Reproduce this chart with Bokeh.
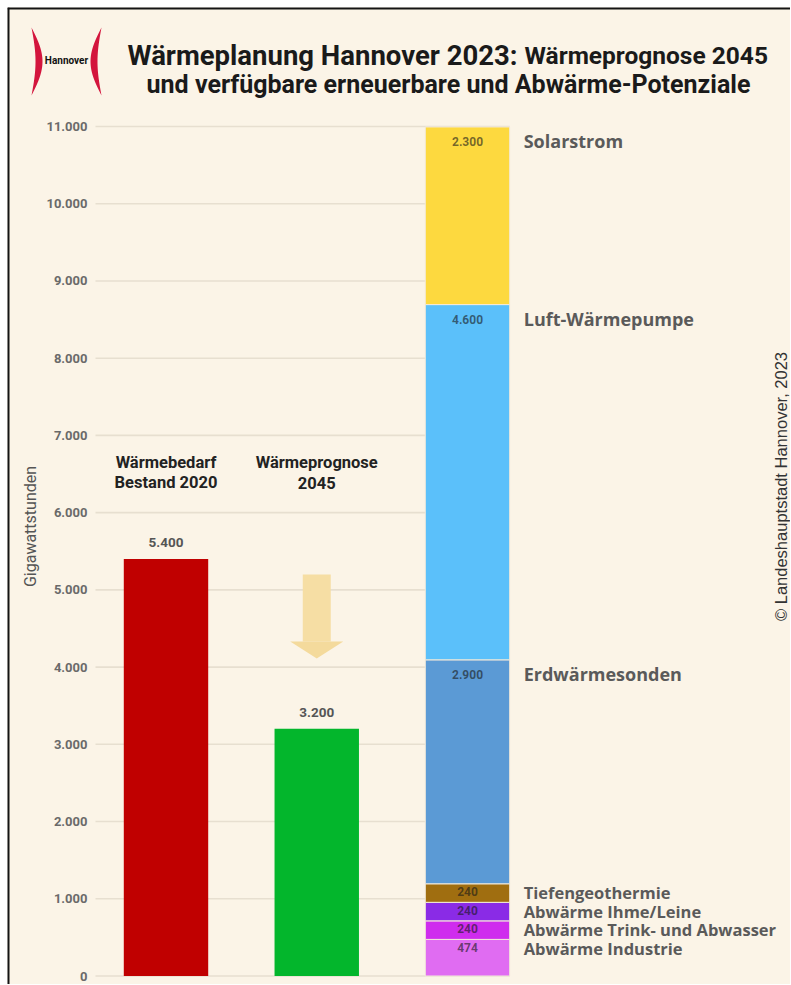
import numpy as np
from bokeh.plotting import figure
from bokeh.models import Range1d, ColumnDataSource
from bokeh.core.properties import value
from bokeh.embed import file_html
from bokeh.resources import INLINE

# ---------------- data ----------------
bar_categories = ["Wärmebedarf\nBestand 2020", "Wärmeprognose\n2045"]
bar_values = [5400, 3200]
bar_colors = ["#C00000", "#03B62C"]

potential_names = ["Abwärme Industrie", "Abwärme Trink- und Abwasser", "Abwärme Ihme/Leine",
                   "Tiefengeothermie", "Erdwärmesonden", "Luft-Wärmepumpe", "Solarstrom"]
potential_values = [474, 240, 240, 240, 2900, 4600, 2300]
potential_colors = ["#E06CF2", "#CF2CEE", "#8A2BE6", "#A06E10", "#5B9AD5", "#5BC0FA", "#FDD93F"]

arrow_start = [5200]
arrow_end = [4110]

y_ticks = [0, 1000, 2000, 3000, 4000, 5000, 6000, 7000, 8000, 9000, 10000, 11000]
y_tick_labels = ["0", "1.000", "2.000", "3.000", "4.000", "5.000", "6.000",
                 "7.000", "8.000", "9.000", "10.000", "11.000"]

title_part1 = "Wärmeplanung Hannover 2023:"
title_part2 = "Wärmeprognose 2045"
title_line2 = "und verfügbare erneuerbare und Abwärme-Potenziale"
y_axis_title = "Gigawattstunden"
credit = "© Landeshauptstadt Hannover, 2023"
logo_text = "Hannover"

# ---------------- geometry / style ----------------
BG = "#FBF4E7"
FONT = "Roboto"
FONT2 = "Open Sans"
W, H = 790, 984
M = 7                      # white strip before the frame border
PX_X = 150.75              # pixels per category step
PX_Y = 849.5 / 11000       # pixels per GWh
X0_PX, Y0_PX = 165.5, 975.5  # page position of x=0, y=0

x_start = (M - X0_PX) / PX_X
x_end = (W - X0_PX) / PX_X
y_end = (Y0_PX - M) / PX_Y
y_start = -(H - Y0_PX) / PX_Y


def X(px):
    return x_start + (px - M) / PX_X


def Y(py):
    return (Y0_PX - py) / PX_Y


def de(v):
    return f"{v:,}".replace(",", ".")


BAR_W = 0.56

p = figure(width=W, height=H, x_range=Range1d(x_start, x_end), y_range=Range1d(y_start, y_end),
           x_axis_location=None, y_axis_location=None, toolbar_location=None,
           output_backend="svg", min_border_left=M, min_border_top=M,
           min_border_right=0, min_border_bottom=0,
           background_fill_color=BG, border_fill_color="white", outline_line_color=None)
p.grid.visible = False

# frame border (left and top)
p.segment(x0=[x_start, x_start], x1=[x_start, x_end], y0=[y_start, y_end], y1=[y_end, y_end],
          line_color="#141414", line_width=4)

# ---------------- header ----------------
s = np.linspace(0, 1, 40)
yy = 27 + (95 - 27) * s
outer = np.sin(np.pi * s) * 11
inner = np.sin(np.pi * s) * 4
for x0, sign in ((31, 1), (101, -1)):
    xs = np.concatenate([x0 + sign * outer, (x0 + sign * inner)[::-1]])
    ys = np.concatenate([yy, yy[::-1]])
    p.patch([X(v) for v in xs], [Y(v) for v in ys], fill_color="#D3153D", line_color=None)
p.text(x=[X(66)], y=[Y(60)], text=[logo_text], text_font=value(FONT),
       text_font_size="10px", text_font_style="bold", text_color="#111",
       text_align="center", text_baseline="middle")

p.text(x=[X(517)], y=[Y(55)], text=[title_part1], text_font=value(FONT), text_font_size="27.5px",
       text_font_style="bold", text_color="#1a1a1a", text_align="right", text_baseline="alphabetic")
p.text(x=[X(524)], y=[Y(55)], text=[title_part2], text_font=value(FONT), text_font_size="24.5px",
       text_font_style="bold", text_color="#1a1a1a", text_align="left", text_baseline="alphabetic")
p.text(x=[X(448)], y=[Y(84)], text=[title_line2], text_font=value(FONT), text_font_size="25px",
       text_font_style="bold", text_color="#1a1a1a", text_align="center", text_baseline="alphabetic")

# ---------------- y axis (ticks + title) ----------------
stack_x = 2
p.segment(x0=[X(95)] * len(y_ticks), x1=[stack_x + BAR_W / 2] * len(y_ticks),
          y0=y_ticks, y1=y_ticks, line_color="#E7DFD0", line_width=1.6)
p.text(x=[X(87)] * len(y_ticks), y=y_ticks, text=y_tick_labels, text_font=value(FONT),
       text_font_size="13px", text_font_style="bold", text_color="#6a6a6a",
       text_align="right", text_baseline="middle")
p.text(x=[X(30)], y=[Y(526)], text=[y_axis_title], angle=np.pi / 2, text_font=value(FONT),
       text_font_size="16px", text_color="#555555", text_align="center", text_baseline="middle")

# ---------------- bars ----------------
bx = list(range(len(bar_values)))
p.vbar(x=bx, top=bar_values, width=BAR_W, fill_color=bar_colors, line_color=None)
p.text(x=bx, y=bar_values, text=[de(v) for v in bar_values], y_offset=-16,
       text_font=value(FONT), text_font_size="13.5px", text_font_style="bold",
       text_color="#555555", text_align="center", text_baseline="middle")
line1 = [c.split("\n")[0] for c in bar_categories]
line2 = [c.split("\n")[1] for c in bar_categories]
for lines, py in ((line1, 462), (line2, 482)):
    p.text(x=bx, y=[Y(py)] * len(bx), text=lines, text_font=value(FONT),
           text_font_size="16.5px", text_font_style="bold", text_color="#222222",
           text_align="center", text_baseline="middle")

# arrow
head_data = 17 / PX_Y
p.vbar(x=[1], bottom=[arrow_end[0] + head_data], top=arrow_start, width=28 / PX_X,
       fill_color="#F6DEA4", line_color=None)
hw = 26.5 / PX_X
p.patch(x=[1 - hw, 1 + hw, 1], y=[arrow_end[0] + head_data, arrow_end[0] + head_data, arrow_end[0]],
        fill_color="#F4DA9C", line_color=None)

# ---------------- stacked potentials ----------------
vals = np.array(potential_values, dtype=float)
tops = np.cumsum(vals)
bottoms = tops - vals
big = vals >= 1000
src = ColumnDataSource(dict(
    x=[stack_x] * len(vals), bottom=bottoms, top=tops,
    color=potential_colors, name=potential_names, label=[de(int(v)) for v in vals],
    val_off=np.where(big, 15, 8),
    name_off=np.where(big, 14, 9),
    name_size=np.where(big, "18px", "16.5px"),
))
p.vbar(x="x", bottom="bottom", top="top", width=BAR_W, fill_color="color",
       line_color="#F3EADA", line_width=1, source=src)
p.text(x="x", y="top", text="label", y_offset="val_off", source=src,
       text_font=value(FONT), text_font_size="12px", text_font_style="bold",
       text_color="#1a1a1a", text_alpha=0.62, text_align="center", text_baseline="middle")
p.text(x="x", y="top", text="name", x_offset=14 + PX_X * BAR_W / 2, y_offset="name_off",
       source=src, text_font=value(FONT2), text_font_size="name_size", text_font_style="bold",
       text_color="#5a5a5a", text_align="left", text_baseline="middle")

# credit
p.text(x=[X(780)], y=[Y(486)], text=[credit], angle=np.pi / 2,
       text_font=value("Liberation Sans"), text_font_size="16.5px", text_color="#333333",
       text_align="center", text_baseline="middle")

open("out.html", "w").write(file_html(p, INLINE))
